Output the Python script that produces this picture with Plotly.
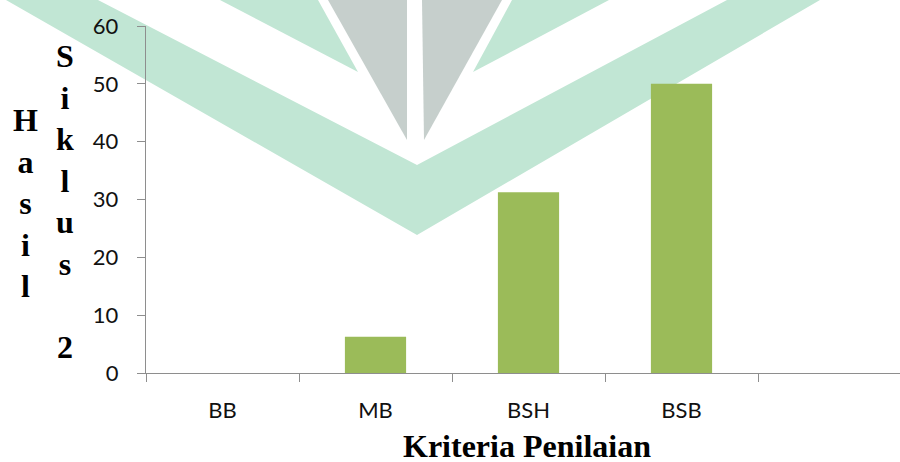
import plotly.graph_objects as go

# Data
categories = ["BB", "MB", "BSH", "BSB"]
values = [0, 6.25, 31.25, 50]
y_ticks = [0, 10, 20, 30, 40, 50, 60]

# Figure geometry (pixels)
W, H = 900, 462
L, R, T, B = 146, 0, 26, 89
CAT_PX = 153  # width of one category slot on the x axis

AXIS_GREY = "#8E8E8E"
BAR_GREEN = "#9BBB59"
MINT = "#C1E6D4"
STONE = "#C6CFCC"
TEXT = "#111111"

x_pos = list(range(len(categories)))
x_end = -0.5 + (W - L - R) / CAT_PX


def to_paper(px, py):
    return (px - L) / (W - L - R), (H - B - py) / (H - T - B)


def poly_path(points):
    pts = [to_paper(x, y) for x, y in points]
    return "M " + " L ".join(f"{x:.5f},{y:.5f}" for x, y in pts) + " Z"


# Background emblem: mint chevrons and stone triangles
emblem = [
    (MINT, [(6, 0), (98, 0), (417, 165), (727, 0), (820, 0), (417, 235)]),
    (MINT, [(220, 0), (318, 0), (358, 72)]),
    (MINT, [(512, 0), (609, 0), (473, 72)]),
    (STONE, [(328, 0), (407, 0), (407, 140)]),
    (STONE, [(422, 0), (502, 0), (424, 140)]),
]
shapes = [
    dict(type="path", xref="paper", yref="paper", path=poly_path(pts),
         fillcolor=col, line=dict(width=0), layer="below")
    for col, pts in emblem
]

fig = go.Figure(
    go.Bar(
        x=x_pos,
        y=values,
        width=0.4,
        marker=dict(color=BAR_GREEN, line=dict(width=0)),
        hoverinfo="x+y",
    )
)

fig.update_layout(
    width=W,
    height=H,
    autosize=False,
    margin=dict(l=L, r=R, t=T, b=B, pad=0),
    paper_bgcolor="white",
    plot_bgcolor="rgba(0,0,0,0)",
    showlegend=False,
    shapes=shapes,
    font=dict(family="Lato", size=22, color=TEXT),
)

fig.update_xaxes(
    range=[-0.5, x_end],
    tickmode="array",
    tickvals=x_pos,
    ticktext=categories,
    ticks="",
    ticklabelstandoff=17,
    showgrid=False,
    zeroline=False,
    showline=True,
    linecolor=AXIS_GREY,
    linewidth=1.4,
    minor=dict(
        tickmode="array",
        tickvals=[i - 0.5 for i in range(len(categories) + 1)],
        ticks="outside",
        ticklen=8,
        tickwidth=1.4,
        tickcolor=AXIS_GREY,
        showgrid=False,
    ),
    tickfont=dict(family="Lato", size=22, color=TEXT),
)

fig.update_yaxes(
    range=[0, 60],
    tickmode="array",
    tickvals=y_ticks,
    ticks="outside",
    ticklen=8,
    tickwidth=1.4,
    tickcolor=AXIS_GREY,
    ticklabelstandoff=14,
    showgrid=False,
    zeroline=False,
    showline=True,
    linecolor=AXIS_GREY,
    linewidth=1.4,
    tickfont=dict(family="Lato", size=22, color=TEXT),
)

title_font = dict(family="Liberation Serif", size=32, color="black")

# Stacked vertical axis title
col1_x, _ = to_paper(25, 0)
col2_x, _ = to_paper(65, 0)
_, mid1_y = to_paper(0, 203)
_, mid2_y = to_paper(0, 201)
fig.add_annotation(
    text="<b>" + "<br>".join("Hasil") + "</b>",
    x=col1_x, y=mid1_y, xref="paper", yref="paper",
    xanchor="center", yanchor="middle", showarrow=False,
    font=title_font, align="center",
)
fig.add_annotation(
    text="<b>" + "<br>".join("Siklus") + "<br><br>2</b>",
    x=col2_x, y=mid2_y, xref="paper", yref="paper",
    xanchor="center", yanchor="middle", showarrow=False,
    font=title_font, align="center",
)

# Horizontal axis title
xt, yt = to_paper(527, 446)
fig.add_annotation(
    text="<b>Kriteria Penilaian</b>",
    x=xt, y=yt, xref="paper", yref="paper",
    xanchor="center", yanchor="middle", showarrow=False,
    font=title_font,
)

fig.write_html("out.html")
